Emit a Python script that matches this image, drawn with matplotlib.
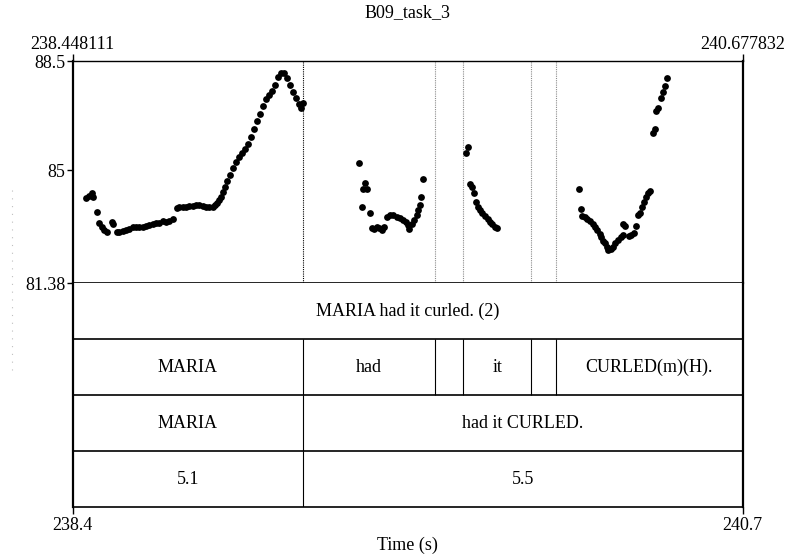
import numpy as np
import matplotlib
matplotlib.use("Agg")
import matplotlib.pyplot as plt
from matplotlib.lines import Line2D

plt.rcParams['font.family'] = ['Liberation Serif']

# time window and pitch range (semitones re 1 Hz)
t_start, t_end = 238.448111, 240.677832
st_min, st_max = 81.38, 88.5
st_ticks = [81.38, 85, 88.5]
title = "B09_task_3"

# pitch track, one list per voiced stretch
seg1_t = [238.4930, 238.5040, 238.5130, 238.5173, 238.5306, 238.5373, 238.5453, 238.5529, 238.5619, 238.5786,
          238.5839, 238.5952, 238.6039, 238.6152, 238.6262, 238.6371, 238.6485, 238.6594, 238.6704, 238.6817,
          238.6927, 238.7037, 238.7150, 238.7260, 238.7370, 238.7483, 238.7593, 238.7703, 238.7816, 238.7949,
          238.8035, 238.8149, 238.8258, 238.8368, 238.8481, 238.8591, 238.8701, 238.8814, 238.8924, 238.9034,
          238.9147, 238.9223, 238.9300, 238.9367, 238.9413, 238.9480, 238.9556, 238.9623, 238.9723, 238.9822,
          238.9922, 239.0022, 239.0122, 239.0222, 239.0322, 239.0421, 239.0521, 239.0621, 239.0721, 239.0821,
          239.0921, 239.1020, 239.1120, 239.1220, 239.1320, 239.1420, 239.1520, 239.1620, 239.1719, 239.1819,
          239.1919, 239.2019, 239.2085, 239.2152]
seg1_st = [84.10, 84.17, 84.26, 84.13, 83.67, 83.29, 83.19, 83.08, 83.03, 83.35,
           83.26, 83.03, 83.01, 83.06, 83.08, 83.12, 83.17, 83.19, 83.17, 83.19,
           83.21, 83.23, 83.27, 83.31, 83.31, 83.38, 83.35, 83.38, 83.42, 83.78,
           83.83, 83.81, 83.83, 83.85, 83.85, 83.87, 83.87, 83.85, 83.83, 83.81,
           83.83, 83.88, 83.94, 84.04, 84.15, 84.31, 84.47, 84.65, 84.84, 85.07,
           85.26, 85.42, 85.55, 85.68, 85.84, 86.06, 86.32, 86.58, 86.80, 87.06,
           87.28, 87.41, 87.54, 87.73, 87.99, 88.12, 88.12, 87.95, 87.73, 87.51,
           87.31, 87.12, 86.99, 87.15]

seg2_t = [239.4026, 239.4215, 239.4159, 239.4292, 239.4106, 239.4382, 239.4438, 239.4515, 239.4605, 239.4691,
          239.4771, 239.4848, 239.4958, 239.5047, 239.5157, 239.5270, 239.5380, 239.5490, 239.5580, 239.5656,
          239.5690, 239.5770, 239.5846, 239.5936, 239.5989, 239.6046, 239.6069, 239.6156]
seg2_st = [85.24, 84.60, 84.39, 84.39, 83.81, 83.63, 83.13, 83.10, 83.17, 83.13,
           83.08, 83.19, 83.51, 83.56, 83.56, 83.51, 83.46, 83.40, 83.35, 83.24,
           83.10, 83.27, 83.40, 83.56, 83.72, 83.88, 84.15, 84.71]

seg3_t = [239.7633, 239.7577, 239.7710, 239.7766, 239.7853, 239.7909, 239.7966, 239.8043, 239.8119, 239.8209,
          239.8299, 239.8375, 239.8452, 239.8542, 239.8598]
seg3_st = [85.73, 85.56, 84.56, 84.45, 84.28, 83.99, 83.83, 83.72, 83.63, 83.53,
           83.42, 83.35, 83.27, 83.17, 83.13]

seg4_t = [240.1327, 240.1394, 240.1437, 240.1527, 240.1613, 240.1703, 240.1803, 240.1880, 240.1946, 240.2026,
          240.2079, 240.2136, 240.2192, 240.2279, 240.2302, 240.2392, 240.2469, 240.2545, 240.2635, 240.2725,
          240.2801, 240.2801, 240.2878, 240.2991, 240.3078, 240.3168, 240.3244, 240.3301, 240.3357, 240.3434,
          240.3500, 240.3577, 240.3633, 240.3690, 240.3800, 240.3856, 240.3910, 240.3966, 240.4056, 240.4133,
          240.4189, 240.4256]
seg4_st = [84.39, 83.74, 83.53, 83.49, 83.43, 83.38, 83.27, 83.19, 83.08, 82.95,
           82.85, 82.74, 82.65, 82.52, 82.44, 82.46, 82.54, 82.65, 82.76, 82.86,
           82.92, 83.27, 83.21, 82.89, 82.92, 82.97, 83.21, 83.56, 83.63, 83.83,
           83.99, 84.13, 84.26, 84.34, 86.18, 86.31, 86.91, 86.98, 87.30, 87.52,
           87.70, 87.95]

# TextGrid tiers: interval boundaries and labels
b_maria = 239.2162
b_had = 239.6545
b_gap1 = 239.7487
b_it = 239.9740
b_gap2 = 240.0582

tier1_bounds = [t_start, t_end]
tier1_labels = ["MARIA had it curled. (2)"]
tier2_bounds = [t_start, b_maria, b_had, b_gap1, b_it, b_gap2, t_end]
tier2_labels = ["MARIA", "had", "", "it", "", "CURLED(m)(H)."]
tier3_bounds = [t_start, b_maria, t_end]
tier3_labels = ["MARIA", "had it CURLED."]
tier4_bounds = [t_start, b_maria, t_end]
tier4_labels = ["5.1", "5.5"]
tiers = [(tier1_bounds, tier1_labels), (tier2_bounds, tier2_labels),
         (tier3_bounds, tier3_labels), (tier4_bounds, tier4_labels)]

FS = 13
W, H = 788, 555
L, R = 72.5, 742.5
fig = plt.figure(figsize=(W / 100, H / 100), dpi=100)

# pitch panel
ax = fig.add_axes([L / W, 1 - 283 / H, (R - L) / W, (283 - 61) / H])
ax.set_xlim(t_start, t_end)
ax.set_ylim(st_min, st_max)
for t, s in [(seg1_t, seg1_st), (seg2_t, seg2_st), (seg3_t, seg3_st), (seg4_t, seg4_st)]:
    ax.scatter(t, s, s=24, color="black", linewidths=0, zorder=3)

# boundaries carried up into the pitch panel as dotted lines
all_bounds = sorted(set(b for bnds, _ in tiers for b in bnds[1:-1]))
for b in all_bounds:
    n = sum(b in bnds[1:-1] for bnds, _ in tiers)
    ax.vlines(b, st_min, st_max, colors="black" if n > 1 else "0.55",
              linestyles=(0, (1, 1)), linewidth=0.8)

ax.spines["top"].set_linewidth(1.0)
ax.spines["bottom"].set_linewidth(1.2)
ax.spines["left"].set_linewidth(1.6)
ax.spines["right"].set_linewidth(1.6)
ax.set_yticks(st_ticks)
ax.set_yticklabels(["81.38", "85", "88.5"])
ax.tick_params(axis="y", direction="out", length=4, width=1, pad=1, labelsize=FS)
ax.xaxis.set_ticks_position("top")
ax.set_xticks([t_start, t_end])
ax.set_xticklabels([f"{t_start:.6f}", f"{t_end:.6f}"])
ax.tick_params(axis="x", direction="out", length=5, width=1, pad=1, labelsize=FS)

# tier panel
tx = fig.add_axes([L / W, 1 - 507 / H, (R - L) / W, (507 - 283) / H])
tx.set_xlim(t_start, t_end)
tx.set_ylim(len(tiers), 0)
tx.spines["top"].set_visible(False)
tx.spines["bottom"].set_linewidth(1.2)
tx.spines["left"].set_linewidth(1.6)
tx.spines["right"].set_linewidth(1.6)
tx.hlines(range(1, len(tiers)), t_start, t_end, colors="black", linewidth=1.2)
for i, (bnds, labels) in enumerate(tiers):
    tx.vlines(bnds[1:-1], i, i + 1, colors="black", linewidth=0.8)
    for a, b, lab in zip(bnds[:-1], bnds[1:], labels):
        tx.text((a + b) / 2, i + 0.5, lab, ha="center", va="center", fontsize=FS)
tx.set_yticks([])
tx.set_xticks([t_start, t_end])
tx.set_xticklabels([f"{t_start:.1f}", f"{t_end:.1f}"])
tx.tick_params(axis="x", direction="out", length=5, width=1, pad=2, labelsize=FS)
tx.set_xlabel("Time (s)", fontsize=FS, labelpad=2)

fig.text((L + R) / 2 / W, 1 - 13 / H, title, ha="center", va="center", fontsize=FS)

# faint vertical axis caption strip on the far left
fig.add_artist(Line2D([12 / W, 12 / W], [1 - 190 / H, 1 - 375 / H],
                      linestyle=(0, (1, 6)), color="0.75", linewidth=0.8))

fig.savefig("out.png", dpi=100)
